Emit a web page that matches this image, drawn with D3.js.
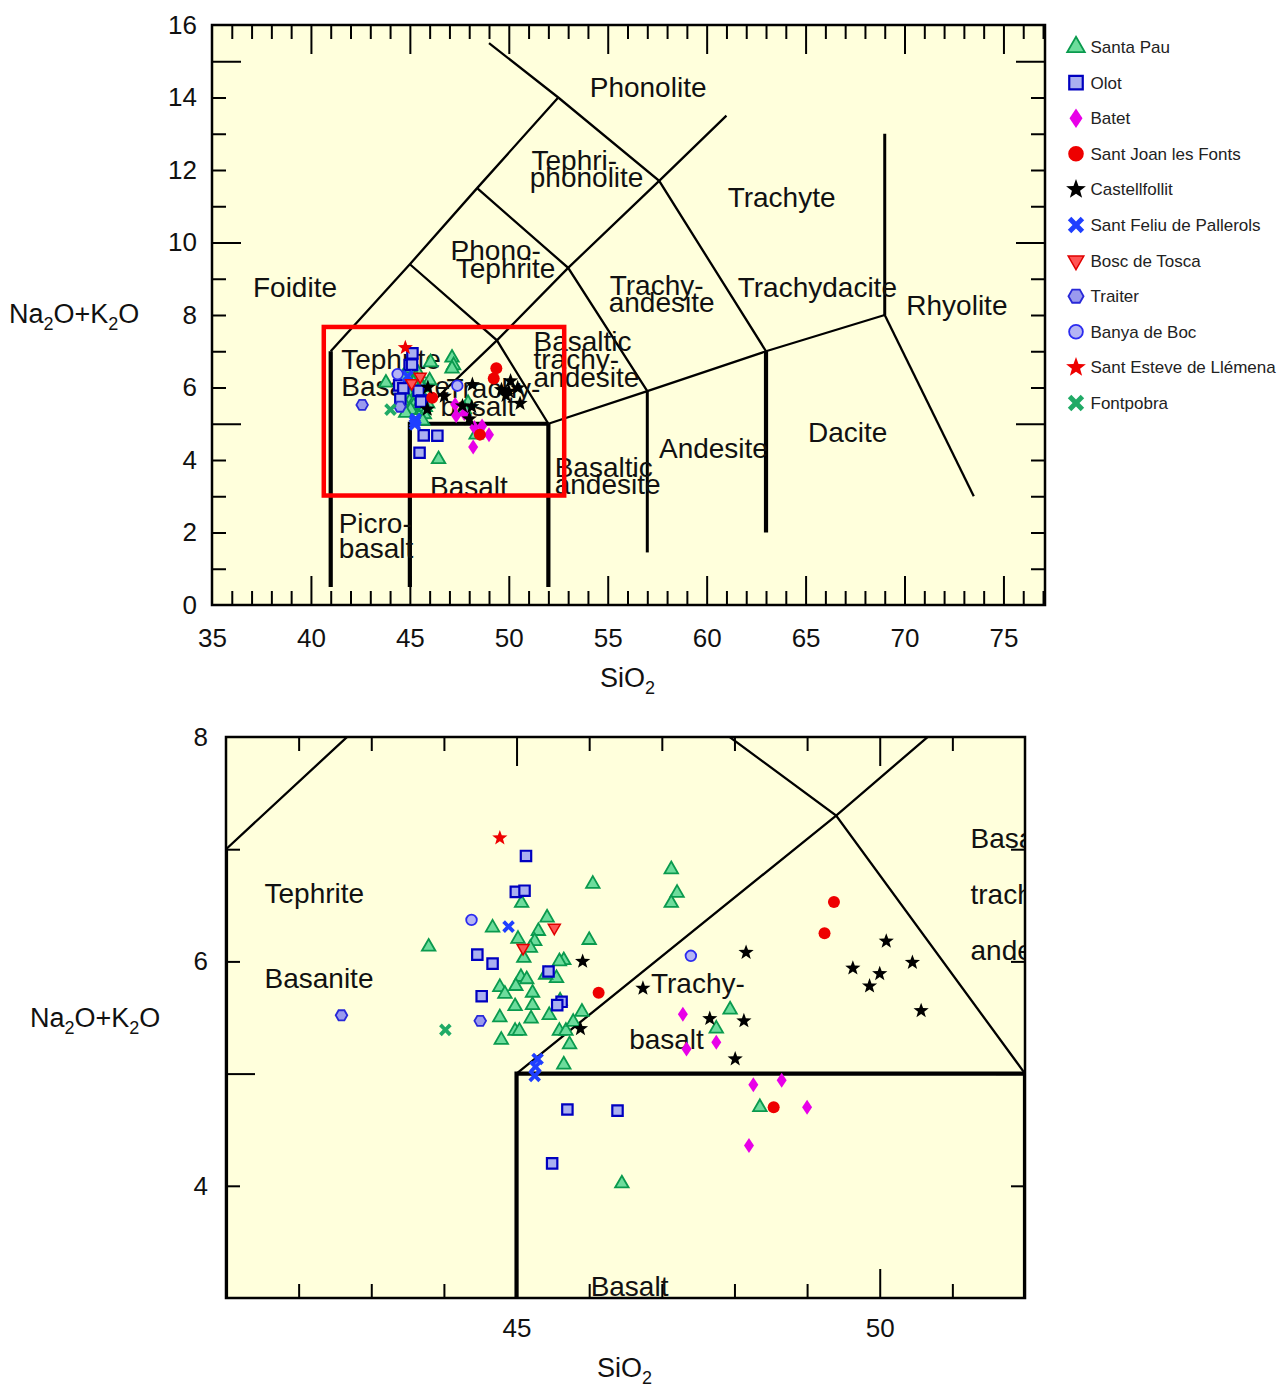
<!DOCTYPE html>
<html>
<head>
<meta charset="utf-8">
<script src="https://cdn.jsdelivr.net/npm/d3@7"></script>
<style>
  body { margin: 0; background: #fff; }
  text { font-family: 'Liberation Sans', Arial, Helvetica, sans-serif; }
</style>
</head>
<body>
<div id="chart"></div>
<script>
// ---- sample data: [SiO2, Na2O+K2O] ----
var santaPau = [[46.05,6.69],[45.07,6.52],[43.79,6.13],[44.67,6.30],[45.42,6.39],[45.02,6.20],[45.30,6.27],
  [45.25,6.18],[45.19,6.12],[46.00,6.19],[45.10,6.03],[45.65,6.01],[45.59,6.00],[45.06,5.86],[45.14,5.84],
  [45.55,5.85],[45.40,5.88],[44.77,5.77],[44.99,5.78],[44.84,5.71],[45.22,5.72],[45.60,5.65],[44.98,5.60],
  [45.22,5.61],[44.77,5.50],[45.20,5.49],[45.45,5.52],[45.90,5.55],[44.98,5.38],[45.04,5.38],[44.79,5.30],
  [45.59,5.38],[45.68,5.38],[45.78,5.46],[45.73,5.26],[45.65,5.08],[47.13,6.82],[47.21,6.61],[47.13,6.52],
  [47.94,5.57],[47.75,5.40],[48.35,4.70],[46.45,4.02]];
var olot = [[45.13,6.94],[44.99,6.62],[45.11,6.63],[44.46,6.06],[44.67,5.98],[45.44,5.91],[44.52,5.69],
  [45.62,5.64],[45.56,5.61],[45.70,4.68],[46.39,4.67],[45.49,4.20]];
var batet = [[47.29,5.53],[47.34,5.22],[47.75,5.28],[48.26,4.90],[48.65,4.94],[49.00,4.70],[48.20,4.36]];
var santJoan = [[46.13,5.72],[49.37,6.53],[49.24,6.25],[48.54,4.70]];
var castellfollit = [[45.91,6.00],[45.88,5.40],[46.74,5.76],[48.16,6.08],[47.66,5.49],[48.13,5.47],[48.01,5.13],
  [49.63,5.94],[50.09,6.18],[50.00,5.89],[49.86,5.78],[50.45,5.99],[50.57,5.56]];
var santFeliu = [[44.89,6.31],[45.29,5.13],[45.26,5.06],[45.25,4.98]];
var boscTosca = [[45.52,6.30],[45.09,6.12]];
var traiter = [[42.59,5.52],[44.50,5.47]];
var banyaBoc = [[44.38,6.37],[47.40,6.05]];
var santEsteve = [[44.77,7.10]];
var fontpobra = [[44.02,5.39]];

// ---- TAS field boundaries ----
var thinLines = [
  [[41,7],[45,9.4],[48.4,11.5],[52.5,14]],
  [[49,15.5],[52.5,14],[57.6,11.7],[63,7]],
  [[45,9.4],[49.4,7.3],[52,5]],
  [[45,5],[49.4,7.3],[53,9.3],[57.6,11.7],[61,13.5]],
  [[48.4,11.5],[53,9.3],[57,5.9]],
  [[52,5],[57,5.9],[63,7],[69,8]],
  [[69,8],[73.5,3]]
];
var mediumLines = [[[57,1.45],[57,5.9]], [[69,8],[69,13]]];
var thickLines = [
  [[41,0.5],[41,7]],
  [[45,0.5],[45,5],[52,5]],
  [[52,0.5],[52,5]],
  [[63,2],[63,7]]
];

// field names, one entry per text line: [text, SiO2 (left), alkali (baseline)]
var fieldLabels = [
  ["Foidite",37.07,8.50],
  ["Picro-",41.40,1.99],["basalt",41.40,1.30],
  ["Basalt",46.02,3.02],
  ["Basaltic",52.32,3.54],["andesite",52.32,3.06],
  ["Andesite",57.59,4.05],
  ["Dacite",65.12,4.50],
  ["Rhyolite",70.09,8.00],
  ["Trachydacite",61.57,8.50],
  ["Trachyte",61.06,10.99],
  ["Trachy-",55.10,8.55],["andesite",55.05,8.08],
  ["Basaltic",51.25,7.01],["trachy-",51.25,6.51],["andesite",51.25,6.01],
  ["Phono-",47.06,9.52],["Tephrite",47.32,9.02],
  ["Tephri-",51.15,12.00],["phonolite",51.06,11.54],
  ["Phonolite",54.09,14.02],
  ["Tephrite",41.53,6.52],["Basanite",41.53,5.76],
  ["Trachy-",46.85,5.72],["basalt",46.55,5.22]
];

// zoom window drawn on the overview
var zoomBox = {x: [40.65, 52.8], y: [3.02, 7.67]};

var series = [
  {name: "Santa Pau", data: santaPau, shape: "triangle", fill: "#6ddc9c", stroke: "#0a9a4e", sw: 1.8},
  {name: "Olot", data: olot, shape: "square", fill: "#aab0f0", stroke: "#0000c0", sw: 2.2},
  {name: "Batet", data: batet, shape: "diamond", fill: "#e800e8", stroke: "none", sw: 0},
  {name: "Sant Joan les Fonts", data: santJoan, shape: "circle", fill: "#ee0000", stroke: "none", sw: 0},
  {name: "Castellfollit", data: castellfollit, shape: "star", fill: "#000", stroke: "none", sw: 0},
  {name: "Sant Feliu de Pallerols", data: santFeliu, shape: "x", fill: "#1f3fff", stroke: "none", sw: 0},
  {name: "Bosc de Tosca", data: boscTosca, shape: "triangleDown", fill: "#ff5555", stroke: "#e00000", sw: 1.5},
  {name: "Traiter", data: traiter, shape: "hexagon", fill: "#9a9aee", stroke: "#2828d8", sw: 1.8},
  {name: "Banya de Boc", data: banyaBoc, shape: "ring", fill: "#b4b4f4", stroke: "#2b2bf0", sw: 1.8},
  {name: "Sant Esteve de Llémena", data: santEsteve, shape: "star", fill: "#ee0000", stroke: "none", sw: 0},
  {name: "Fontpobra", data: fontpobra, shape: "x", fill: "#20aa66", stroke: "none", sw: 0}
];

function poly(pts) { return "M" + pts.map(function(p){ return p[0].toFixed(2) + "," + p[1].toFixed(2); }).join("L") + "Z"; }
function circ(r) { return "M" + (-r) + ",0A" + r + "," + r + " 0 1,0 " + r + ",0A" + r + "," + r + " 0 1,0 " + (-r) + ",0Z"; }

function symbolPath(shape, k) {
  var i, pts = [];
  if (shape == "triangle" || shape == "triangleDown") {
    var w = (shape == "triangle" ? 13.5 : 12) * k, h = w * 0.87, s = shape == "triangle" ? 1 : -1;
    return poly([[0, -s*h*2/3], [w/2, s*h/3], [-w/2, s*h/3]]);
  }
  if (shape == "square") { var a = 5.2 * k; return poly([[-a,-a],[a,-a],[a,a],[-a,a]]); }
  if (shape == "diamond") { return poly([[0,-7.5*k],[5*k,0],[0,7.5*k],[-5*k,0]]); }
  if (shape == "circle") return circ(6 * k);
  if (shape == "ring") return circ(5.3 * k);
  if (shape == "hexagon") {
    for (i = 0; i < 6; i++) pts.push([5.8*k*Math.cos(i*Math.PI/3), 5.8*k*Math.sin(i*Math.PI/3)]);
    return poly(pts);
  }
  if (shape == "star") {
    for (i = 0; i < 10; i++) {
      var r = (i % 2 ? 3.3 : 8.0) * k, ang = -Math.PI/2 + i*Math.PI/5;
      pts.push([r*Math.cos(ang), r*Math.sin(ang)]);
    }
    return poly(pts);
  }
  if (shape == "x") {
    var L = 7 * k, b = 1.9 * k;
    var plus = [[-b,-L],[b,-L],[b,-b],[L,-b],[L,b],[b,b],[b,L],[-b,L],[-b,b],[-L,b],[-L,-b],[-b,-b]];
    var c = Math.SQRT1_2;
    return poly(plus.map(function(p){ return [c*(p[0]-p[1]), c*(p[0]+p[1])]; }));
  }
}

var svg = d3.select("#chart").append("svg")
  .attr("width", 1282)
  .attr("height", 1385);

function drawPanel(o) {
  var x = d3.scaleLinear().domain(o.xDomain).range([o.left, o.right]);
  var y = d3.scaleLinear().domain(o.yDomain).range([o.bottom, o.top]);
  var g = svg.append("g");

  g.append("clipPath").attr("id", o.id)
    .append("rect")
    .attr("x", o.left).attr("y", o.top)
    .attr("width", o.right - o.left).attr("height", o.bottom - o.top);

  g.append("rect")
    .attr("x", o.left).attr("y", o.top)
    .attr("width", o.right - o.left).attr("height", o.bottom - o.top)
    .attr("fill", "#ffffdc");

  var plot = g.append("g").attr("clip-path", "url(#" + o.id + ")");
  var line = d3.line().x(function(d){ return x(d[0]); }).y(function(d){ return y(d[1]); });

  [[thinLines, 2.3], [mediumLines, 3], [thickLines, 4.2]].forEach(function(set) {
    plot.selectAll(null).data(set[0]).enter().append("path")
      .attr("d", line)
      .attr("fill", "none")
      .attr("stroke", "#000")
      .attr("stroke-width", set[1])
      .attr("stroke-linejoin", "miter");
  });

  plot.selectAll(null).data(fieldLabels).enter().append("text")
    .attr("x", function(d){ return x(d[1]); })
    .attr("y", function(d){ return y(d[2]); })
    .style("font-size", "28px")
    .attr("fill", "#111")
    .text(function(d){ return d[0]; });

  series.forEach(function(s) {
    plot.selectAll(null).data(s.data).enter().append("path")
      .attr("transform", function(d){ return "translate(" + x(d[0]) + "," + y(d[1]) + ")"; })
      .attr("d", symbolPath(s.shape, 1))
      .attr("fill", s.fill)
      .attr("stroke", s.stroke)
      .attr("stroke-width", s.sw);
  });

  // frame
  g.append("rect")
    .attr("x", o.left).attr("y", o.top)
    .attr("width", o.right - o.left).attr("height", o.bottom - o.top)
    .attr("fill", "none").attr("stroke", "#000").attr("stroke-width", 2.5);

  // inward ticks, long ones every 5 units
  var xShort = o.xTicks.filter(function(v){ return v % 5 != 0; });
  var xLong = o.xTicks.filter(function(v){ return v % 5 == 0; });
  var yShort = o.yTicks.filter(function(v){ return v % 5 != 0; });
  var yLong = o.yTicks.filter(function(v){ return v % 5 == 0; });
  function tickAxis(axis, vals, size, tr) {
    var a = g.append("g").attr("transform", tr)
      .call(axis.tickValues(vals).tickSize(-size).tickFormat(""));
    a.select(".domain").remove();
    a.selectAll("line").attr("stroke", "#000").attr("stroke-width", 2);
  }
  [[xShort, 14], [xLong, 29]].forEach(function(t) {
    tickAxis(d3.axisBottom(x), t[0], t[1], "translate(0," + o.bottom + ")");
    tickAxis(d3.axisTop(x), t[0], t[1], "translate(0," + o.top + ")");
  });
  [[yShort, 14], [yLong, 29]].forEach(function(t) {
    tickAxis(d3.axisLeft(y), t[0], t[1], "translate(" + o.left + ",0)");
    tickAxis(d3.axisRight(y), t[0], t[1], "translate(" + o.right + ",0)");
  });

  // tick labels
  var xl = g.append("g").attr("transform", "translate(0," + o.bottom + ")")
    .call(d3.axisBottom(x).tickValues(o.xLabels).tickSize(0).tickPadding(o.xPad).tickFormat(d3.format("d")));
  var yl = g.append("g").attr("transform", "translate(" + o.left + ",0)")
    .call(d3.axisLeft(y).tickValues(o.yLabels).tickSize(0).tickPadding(o.yPad).tickFormat(d3.format("d")));
  [xl, yl].forEach(function(a) {
    a.select(".domain").remove();
    a.selectAll("text").style("font-size", "26px").attr("fill", "#111")
      .style("font-family", "'Liberation Sans', Arial, sans-serif");
  });

  // axis titles
  var yt = g.append("text").attr("x", o.yTitle[0]).attr("y", o.yTitle[1])
    .style("font-size", "27px").attr("fill", "#111");
  yt.append("tspan").text("Na");
  yt.append("tspan").attr("dy", 7).style("font-size", "18px").text("2");
  yt.append("tspan").attr("dy", -7).text("O+K");
  yt.append("tspan").attr("dy", 7).style("font-size", "18px").text("2");
  yt.append("tspan").attr("dy", -7).text("O");

  var xt = g.append("text").attr("x", o.xTitle[0]).attr("y", o.xTitle[1])
    .style("font-size", "27px").attr("fill", "#111");
  xt.append("tspan").text("SiO");
  xt.append("tspan").attr("dy", 7).style("font-size", "18px").text("2");

  if (o.box) {
    g.append("rect")
      .attr("x", x(zoomBox.x[0])).attr("y", y(zoomBox.y[1]))
      .attr("width", x(zoomBox.x[1]) - x(zoomBox.x[0]))
      .attr("height", y(zoomBox.y[0]) - y(zoomBox.y[1]))
      .attr("fill", "none").attr("stroke", "#ff0000").attr("stroke-width", 4.5);
  }
}

drawPanel({
  id: "clipTop", left: 212, right: 1045, top: 25, bottom: 605,
  xDomain: [35, 77.1], yDomain: [0, 16],
  xTicks: d3.range(36, 78), yTicks: d3.range(1, 16),
  xLabels: d3.range(35, 80, 5), yLabels: d3.range(0, 17, 2),
  xPad: 24, yPad: 15,
  yTitle: [9, 323], xTitle: [600, 687], box: true
});

drawPanel({
  id: "clipBottom", left: 226, right: 1025, top: 737, bottom: 1298,
  xDomain: [41, 52], yDomain: [3, 8],
  xTicks: d3.range(42, 52), yTicks: d3.range(4, 8),
  xLabels: [45, 50], yLabels: [4, 6, 8],
  xPad: 21, yPad: 18,
  yTitle: [30, 1027], xTitle: [597, 1377], box: false
});

// legend
var legend = svg.append("g").attr("transform", "translate(1076,47)");
var rows = legend.selectAll("g").data(series).enter().append("g")
  .attr("transform", function(d, i){ return "translate(0," + (i * 35.6) + ")"; });
rows.append("path")
  .attr("d", function(d){ return symbolPath(d.shape, 1.3); })
  .attr("fill", function(d){ return d.fill; })
  .attr("stroke", function(d){ return d.stroke; })
  .attr("stroke-width", function(d){ return d.sw; });
rows.append("text")
  .attr("x", 14.5).attr("y", 6)
  .style("font-size", "17px")
  .attr("fill", "#222")
  .text(function(d){ return d.name; });
</script>
</body>
</html>
